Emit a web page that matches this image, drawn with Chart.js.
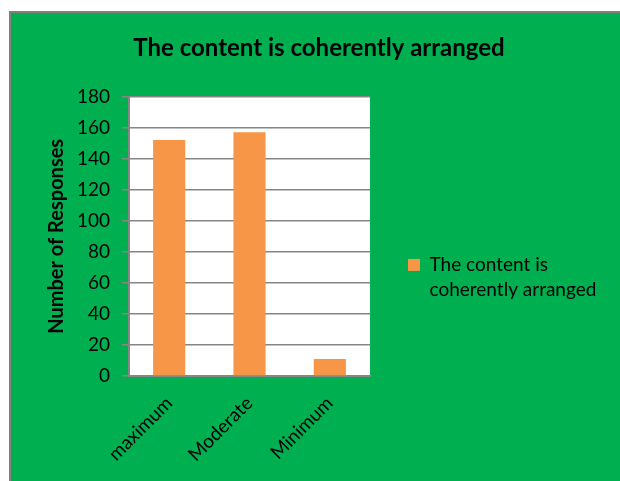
<!DOCTYPE html>
<html>
<head>
<meta charset="utf-8">
<script src="https://cdn.jsdelivr.net/npm/chart.js@4.4.0/dist/chart.umd.min.js"></script>
<style>
  html, body { margin: 0; padding: 0; background: #fff; }
  #wrap { width: 620px; height: 481px; }
</style>
</head>
<body>
<div id="wrap"><canvas id="chart"></canvas></div>
<script>
const categories = ['maximum', 'Moderate', 'Minimum'];
const responses = [152, 157, 11];
const seriesName = 'The content is coherently arranged';
const legendLines = ['The content is', 'coherently arranged'];
const yTicks = [0, 20, 40, 60, 80, 100, 120, 140, 160, 180];

const FONT = 'Lato, "Open Sans", sans-serif';

// green frame + white plot area
const backgrounds = {
    id: 'backgrounds',
    beforeDraw(chart) {
        const c = chart.ctx;
        const a = chart.chartArea;
        c.save();
        c.fillStyle = '#808080';
        c.fillRect(9, 11, chart.width - 9, chart.height - 11);
        c.fillStyle = '#00B050';
        c.fillRect(11, 13, chart.width - 11, chart.height - 13);
        c.fillStyle = '#ffffff';
        c.fillRect(a.left, a.top, a.right - a.left, a.bottom - a.top);
        c.restore();
    }
};

// legend gets a fixed width so the plot ends where it does in the original
const legendWidth = {
    id: 'legendWidth',
    beforeLayout(chart) {
        const lg = chart.legend;
        if (lg && !lg._fixed) {
            const fit = lg.fit;
            lg.fit = function () {
                fit.call(this);
                this.width = 250;
            };
            lg._fixed = true;
        }
    }
};

const ctx = document.getElementById('chart').getContext('2d');
const myChart = new Chart(ctx, {
    type: 'bar',
    data: {
        labels: categories,
        datasets: [
            {
                label: seriesName,
                data: responses,
                backgroundColor: '#F79646',
                barPercentage: 0.4,
                categoryPercentage: 1
            }
        ]
    },
    options: {
        responsive: true,
        maintainAspectRatio: false,
        animation: false,
        layout: { padding: { left: 18, right: 0, top: 14, bottom: 0 } },
        plugins: {
            title: {
                display: true,
                text: 'The content is coherently arranged',
                color: '#000',
                font: { family: FONT, size: 24, weight: 'bold', lineHeight: 1.15 },
                padding: { top: 20, bottom: 35 }
            },
            legend: {
                position: 'right',
                maxWidth: 260,
                // empty title only pushes the entry down a bit
                title: {
                    display: true,
                    text: '',
                    color: '#000',
                    font: { family: FONT, size: 10, lineHeight: 1 },
                    padding: { top: 56, bottom: 0 }
                },
                labels: {
                    color: '#000',
                    font: { family: FONT, size: 19, lineHeight: 1.32 },
                    boxWidth: 12,
                    boxHeight: 12,
                    padding: 38,
                    generateLabels(chart) {
                        return [{
                            text: legendLines,
                            fillStyle: '#F79646',
                            strokeStyle: '#F79646',
                            fontColor: '#000',
                            lineWidth: 0,
                            datasetIndex: 0
                        }];
                    }
                }
            },
            tooltip: { enabled: false }
        },
        scales: {
            x: {
                afterFit(scale) { scale.height = 105; },
                grid: { display: false },
                border: { display: true, color: '#868686', width: 2 },
                ticks: {
                    color: '#000',
                    font: { family: FONT, size: 19 },
                    maxRotation: 45,
                    minRotation: 45,
                    padding: 8
                }
            },
            y: {
                min: 0,
                max: 180,
                afterFit(scale) { scale.width = 111; },
                afterBuildTicks(scale) { scale.ticks = yTicks.map(v => ({ value: v })); },
                grid: { color: '#868686', lineWidth: 1.5, tickLength: 7 },
                border: { display: true, color: '#868686', width: 2 },
                ticks: {
                    color: '#000',
                    font: { family: FONT, size: 19 },
                    padding: 12
                },
                title: {
                    display: true,
                    text: 'Number of Responses',
                    color: '#000',
                    font: { family: FONT, size: 20, weight: 'bold', lineHeight: 1.2 },
                    padding: 27
                }
            }
        }
    },
    plugins: [backgrounds, legendWidth]
});
</script>
</body>
</html>
